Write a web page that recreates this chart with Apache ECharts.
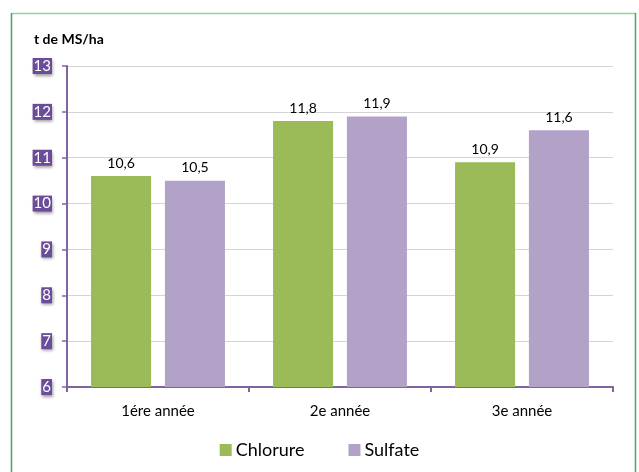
<!DOCTYPE html>
<html>
<head>
<meta charset="utf-8">
<script src="https://cdn.jsdelivr.net/npm/echarts@6/dist/echarts.min.js"></script>
<style>
html,body{margin:0;padding:0;background:#fff;}
#c{width:639px;height:472px;}
</style>
</head>
<body>
<div id="c"></div>
<script>
var categories = ['1ére année', '2e année', '3e année'];
var chlorure = [10.6, 11.8, 10.9];
var sulfate = [10.5, 11.9, 11.6];
var seriesNames = ['Chlorure', 'Sulfate'];
var yTitle = 't de MS/ha';

var FONT = 'Lato, "Open Sans", sans-serif';
var chart = echarts.init(document.getElementById('c'), null, {renderer: 'canvas'});
function fmt(p){ return String(p.value).replace('.', ','); }
chart.setOption({
  animation: false,
  backgroundColor: '#ffffff',
  graphic: [
    {type: 'line', shape: {x1: 11.5, y1: 13.5, x2: 635.5, y2: 13.5}, style: {stroke: '#93d19f', lineWidth: 1.5}},
    {type: 'line', shape: {x1: 11.5, y1: 13, x2: 11.5, y2: 480}, style: {stroke: '#4aa64e', lineWidth: 1.5}},
    {type: 'line', shape: {x1: 635.5, y1: 13, x2: 635.5, y2: 480}, style: {stroke: '#3cb44a', lineWidth: 1.5}},
    {type: 'text', left: 34, top: 32, style: {text: yTitle, font: 'bold 14px ' + FONT, fill: '#000'}}
  ],
  grid: {left: 67, right: 26, top: 66, bottom: 85, containLabel: false},
  legend: {
    data: seriesNames,
    bottom: 8,
    left: 'center',
    itemWidth: 12, itemHeight: 12, itemGap: 44,
    icon: 'rect',
    textStyle: {fontFamily: FONT, fontSize: 18, color: '#000', padding: [0,0,0,-1]}
  },
  xAxis: {
    type: 'category',
    data: categories,
    axisLine: {lineStyle: {color: '#8064a2', width: 2}},
    axisTick: {show: true, length: 5, lineStyle: {color: '#8064a2', width: 2}},
    axisLabel: {fontFamily: FONT, fontSize: 15, color: '#000', margin: 17}
  },
  yAxis: {
    type: 'value',
    min: 6, max: 13, interval: 1,
    axisLine: {show: true, lineStyle: {color: '#8064a2', width: 2}},
    axisTick: {show: true, length: 5, lineStyle: {color: '#8064a2', width: 1.5}},
    splitLine: {lineStyle: {color: '#d4d4d4', width: 1}},
    axisLabel: {
      fontFamily: FONT, fontSize: 15, color: '#ffffff', margin: 15,
      backgroundColor: '#6b4c9a', padding: [1, 1, 0, 1],
      shadowColor: 'rgba(0,0,0,0.4)', shadowBlur: 3, shadowOffsetX: 1, shadowOffsetY: 2
    }
  },
  series: [
    {
      name: seriesNames[0], type: 'bar', data: chlorure,
      barWidth: '33%', barGap: '23%',
      itemStyle: {color: '#9bbb59'},
      label: {show: true, position: 'top', distance: 6, formatter: fmt, fontFamily: FONT, fontSize: 14, color: '#000'}
    },
    {
      name: seriesNames[1], type: 'bar', data: sulfate,
      barWidth: '33%', barGap: '23%',
      itemStyle: {color: '#b3a2c7'},
      label: {show: true, position: 'top', distance: 6, formatter: fmt, fontFamily: FONT, fontSize: 14, color: '#000'}
    }
  ]
});
</script>
</body>
</html>
